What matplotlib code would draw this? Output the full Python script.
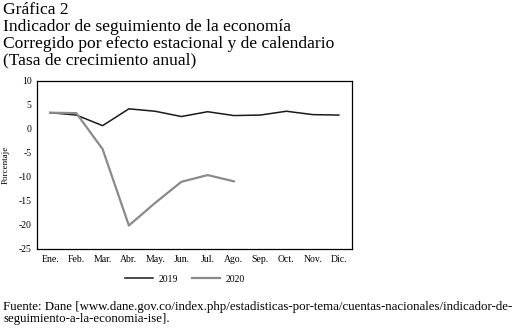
import matplotlib.pyplot as plt
import numpy as np

plt.rcParams['font.family'] = ['Liberation Serif', 'DejaVu Serif']
plt.rcParams['axes.unicode_minus'] = False

meses = ["Ene.", "Feb.", "Mar.", "Abr.", "May.", "Jun.", "Jul.", "Ago.", "Sep.", "Oct.", "Nov.", "Dic."]
ise_2019 = [3.4, 2.9, 0.7, 4.2, 3.7, 2.6, 3.6, 2.8, 2.9, 3.7, 3.0, 2.9]
ise_2020 = [3.4, 3.3, -4.2, -20.1, -15.4, -11.0, -9.6, -10.9]

fig = plt.figure(figsize=(5.25, 3.29), dpi=100)
ax = fig.add_axes([37/525, 1-249/329, 315/525, 168/329])

x = np.arange(len(meses))
ax.plot(x, ise_2019, color="#1a1a1a", lw=1.1, label="2019")
ax.plot(x[:len(ise_2020)], ise_2020, color="#8a8a8a", lw=1.6, label="2020")

ax.set_xlim(-0.5, 11.5)
ax.set_ylim(-25, 10)
ax.set_yticks(np.arange(-25, 11, 5))
ax.set_xticks(x)
ax.set_xticklabels(meses, fontsize=7)
ax.tick_params(axis="both", length=0, labelsize=7, pad=4)
ax.set_ylabel("Porcentaje", fontsize=6.5, labelpad=6)
for s in ax.spines.values():
    s.set_linewidth(0.9)

ax.legend(loc="upper center", bbox_to_anchor=(0.5 - 0.03, -0.1), ncol=2, frameon=False,
          fontsize=7, handlelength=2.8, columnspacing=1.5, handletextpad=0.6)

fig.text(3/525, 1-2/329, "Gráfica 2\nIndicador de seguimiento de la economía\nCorregido por efecto estacional y de calendario\n(Tasa de crecimiento anual)",
         ha="left", va="top", fontsize=12.6, linespacing=1.08)
fig.text(3/525, 1-301/329, "Fuente: Dane [www.dane.gov.co/index.php/estadisticas-por-tema/cuentas-nacionales/indicador-de-\nseguimiento-a-la-economia-ise].",
         ha="left", va="top", fontsize=9.3, linespacing=0.95)

fig.savefig("out.png", dpi=100)
